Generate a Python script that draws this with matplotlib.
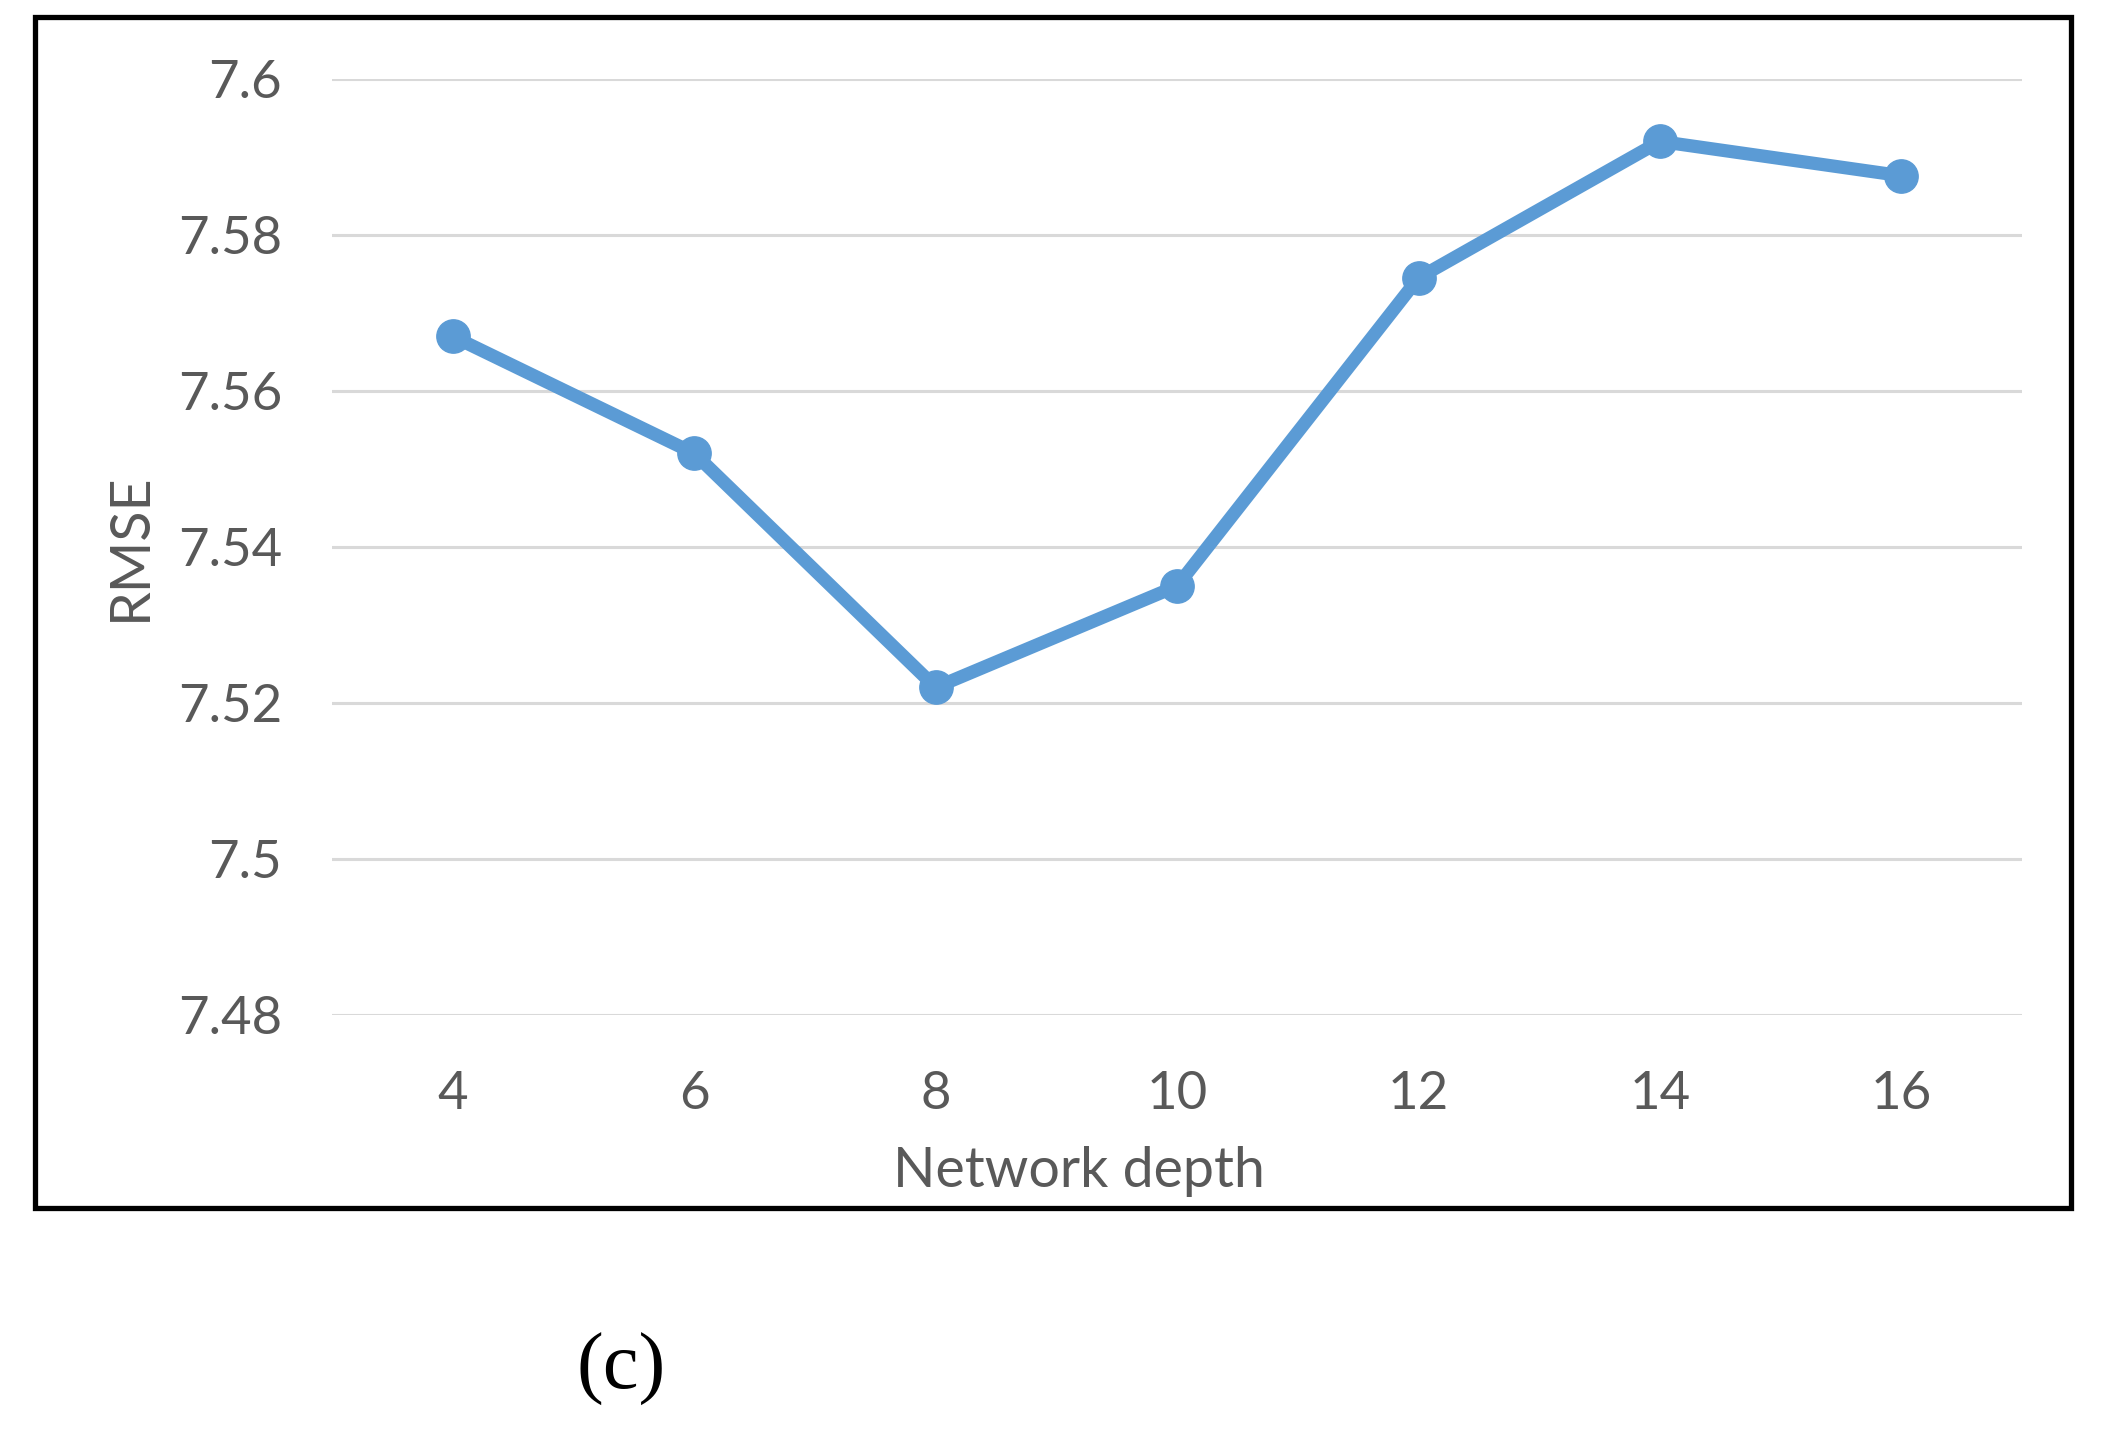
import matplotlib
matplotlib.use('Agg')
import matplotlib.pyplot as plt
from matplotlib.patches import Rectangle

# data
depth = [4, 6, 8, 10, 12, 14, 16]
rmse = [7.567, 7.552, 7.522, 7.535, 7.5745, 7.592, 7.5876]
y_ticks = [7.48, 7.5, 7.52, 7.54, 7.56, 7.58, 7.6]
y_tick_labels = ['7.48', '7.5', '7.52', '7.54', '7.56', '7.58', '7.6']

blue = '#5B9BD5'
grey_text = '#595959'

fig = plt.figure(figsize=(21.02, 14.42), dpi=100)
ax = fig.add_axes([0.158, 0.2961, 0.804, 0.6491])

ax.plot(depth, rmse, color=blue, linewidth=9.5, marker='o', markersize=24,
        solid_capstyle='round', solid_joinstyle='round', zorder=3)

ax.set_xlim(3, 17)
ax.set_ylim(7.48, 7.6)
ax.set_xticks(depth)
ax.set_xticklabels([str(d) for d in depth])
ax.set_yticks(y_ticks)
ax.set_yticklabels(y_tick_labels)

ax.grid(axis='y', color='#D9D9D9', linewidth=2.2, zorder=0)
ax.set_axisbelow(True)
for s in ax.spines.values():
    s.set_visible(False)
ax.tick_params(length=0, labelsize=38, labelcolor=grey_text, pad=36)
ax.tick_params(axis='x', pad=40)
for lab in ax.get_xticklabels() + ax.get_yticklabels():
    lab.set_family('Lato')

ax.set_xlabel('Network depth', fontsize=40, color=grey_text, family='Lato')
ax.set_ylabel('RMSE', fontsize=40, color=grey_text, family='Lato')
ax.xaxis.set_label_coords(0.442, -0.14)
ax.yaxis.set_label_coords(-0.104, 0.5)

# black frame around the chart
fig.patches.append(Rectangle((0.0167, 0.1623), 0.9686, 0.826, transform=fig.transFigure,
                             fill=False, edgecolor='black', linewidth=3.8))

fig.text(0.2955, 0.05, '(c)', fontsize=58, family='Liberation Serif', ha='center', va='center')

fig.savefig('out.png', dpi=100)
